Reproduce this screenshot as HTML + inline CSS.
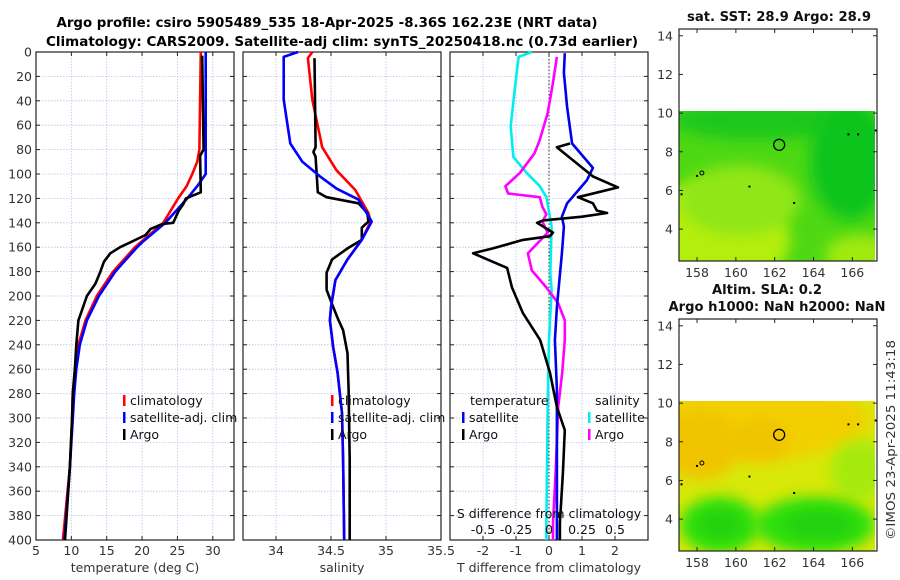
<!DOCTYPE html>
<html><head><meta charset="utf-8">
<style>
html,body{margin:0;padding:0;background:#fff;}
svg{display:block;font-family:"DejaVu Sans","Liberation Sans",sans-serif;}
</style></head>
<body>
<svg id="fig" width="900" height="580" viewBox="0 0 900 580" xmlns="http://www.w3.org/2000/svg">
<defs>
<filter id="blur6" x="-50%" y="-50%" width="200%" height="200%"><feGaussianBlur stdDeviation="7"/></filter>
<clipPath id="clipMap1"><rect x="679" y="111" width="196" height="150"/></clipPath>
<clipPath id="clipMap2"><rect x="679" y="401" width="196" height="150"/></clipPath>
</defs>
<text x="327" y="27" text-anchor="middle" font-size="13" font-weight="bold" textLength="541" lengthAdjust="spacingAndGlyphs">Argo profile: csiro 5905489_535 18-Apr-2025 -8.36S 162.23E (NRT data)</text>
<text x="342" y="46" text-anchor="middle" font-size="13" font-weight="bold" textLength="592" lengthAdjust="spacingAndGlyphs">Climatology: CARS2009. Satellite-adj clim: synTS_20250418.nc (0.73d earlier)</text>

<g id="maps">
  <g clip-path="url(#clipMap1)">
    <rect x="679" y="111" width="196" height="150" fill="#4ed814"/>
    <ellipse cx="700" cy="240" rx="90" ry="55" fill="#b4ee10" filter="url(#blur6)"/>
    <ellipse cx="740" cy="200" rx="60" ry="35" fill="#90e612" filter="url(#blur6)"/>
    <ellipse cx="860" cy="255" rx="35" ry="20" fill="#a0ea10" filter="url(#blur6)"/>
    <ellipse cx="760" cy="120" rx="90" ry="20" fill="#1ec81c" filter="url(#blur6)"/>
    <ellipse cx="850" cy="160" rx="40" ry="60" fill="#10c41e" filter="url(#blur6)"/>
  </g>
  <g clip-path="url(#clipMap2)">
    <rect x="679" y="401" width="196" height="150" fill="#d8e808"/>
    <ellipse cx="760" cy="420" rx="110" ry="40" fill="#f2d000" filter="url(#blur6)"/>
    <ellipse cx="700" cy="445" rx="40" ry="35" fill="#f0c400" filter="url(#blur6)"/>
    <ellipse cx="760" cy="440" rx="30" ry="22" fill="#f0c400" filter="url(#blur6)"/>
    <ellipse cx="860" cy="470" rx="30" ry="30" fill="#a6ea08" filter="url(#blur6)"/>
    <ellipse cx="720" cy="525" rx="40" ry="28" fill="#2ee00a" filter="url(#blur6)"/>
    <ellipse cx="815" cy="525" rx="60" ry="28" fill="#2ee00a" filter="url(#blur6)"/>
    <ellipse cx="720" cy="525" rx="20" ry="14" fill="#20d010" filter="url(#blur6)"/>
    <ellipse cx="820" cy="525" rx="35" ry="14" fill="#20d010" filter="url(#blur6)"/>
  </g>
</g>
<g id="plots"></g>
</svg>
<script>
// ---------- data ----------
const depthTicks = [0,20,40,60,80,100,120,140,160,180,200,220,240,260,280,300,320,340,360,380,400];
const tempTicks = [5,10,15,20,25,30];
const salTicks = [34,34.5,35,35.5];
const tdiffTicks = [-2,-1,0,1,2];
const sdiffTicks = [-0.5,-0.25,0,0.25,0.5];
const sdiffTickLabels = ["-0.5","-0.25","0","0.25","0.5"];

const climTempDepth = [0,80,90,100,110,120,140,160,180,200,220,240,260,280,300,340,400];
const climTemp      = [28.3,28.1,27.8,27.1,26.3,25.1,23.0,19.0,15.9,13.6,12.0,11.0,10.5,10.2,10.1,9.8,8.8];
const satTempDepth  = [0,100,110,120,140,155,160,180,200,220,240,260,280,300,340,400];
const satTemp       = [29.0,29.0,27.8,26.4,23.3,20.2,19.3,16.2,13.9,12.2,11.2,10.7,10.4,10.2,9.8,9.0];
const argoTempDepth = [3,80,85,115,120,125,130,140,141,145,150,160,165,172,180,190,200,220,240,260,280,300,340,400];
const argoTemp      = [28.5,28.7,28.2,28.3,26.2,25.8,25.2,24.4,22.9,21.2,20.5,16.9,15.5,14.6,14.1,13.4,12.2,11.0,10.7,10.5,10.2,10.1,9.8,9.1];

const climSalDepth = [0,5,39,78,97,113,132,139,154,170,187,209,220,242,263,296,334,400];
const climSal      = [34.33,34.29,34.33,34.42,34.55,34.72,34.84,34.86,34.78,34.65,34.54,34.5,34.49,34.52,34.56,34.6,34.61,34.62];
const satSalDepth  = [0,4,39,75,90,102,112,121,139,154,170,187,209,220,242,263,296,334,400];
const satSal       = [34.2,34.07,34.07,34.13,34.24,34.4,34.55,34.75,34.87,34.78,34.65,34.54,34.5,34.49,34.52,34.56,34.6,34.61,34.62];
const argoSalDepth = [5,78,82,86,115,119,124,132,139,144,154,161,170,181,195,209,218,228,247,277,334,400];
const argoSal      = [34.35,34.36,34.34,34.36,34.38,34.46,34.75,34.83,34.84,34.78,34.78,34.65,34.51,34.46,34.46,34.52,34.56,34.61,34.65,34.66,34.67,34.67];

const satTdiffDepth  = [1,17,45,75,95,105,124,135,143,165,209,236,277,386,400];
const satTdiff       = [0.48,0.45,0.55,0.7,1.33,1.15,0.55,0.39,0.45,0.39,0.24,0.18,0.24,0.24,0.24];
const argoTdiffDepth = [75,78,102,111,119,124,130,132,135,138,140,148,151,154,161,165,177,193,214,236,263,291,310,345,386,400];
const argoTdiff      = [0.64,0.24,1.33,2.09,0.88,1.33,1.45,1.76,1.0,-0.18,-0.36,0.12,0.03,-0.79,-1.7,-2.3,-1.27,-1.12,-0.79,-0.27,0.03,0.24,0.48,0.42,0.33,0.33];
const satSdiffDepth  = [0,4,31,61,86,99,110,119,143,181,195,236,291,386,400];
const satSdiff       = [-0.13,-0.23,-0.26,-0.29,-0.27,-0.17,-0.07,-0.02,0.02,0.01,0.02,0,-0.01,-0.02,-0.02];
const argoSdiffDepth = [4,25,50,72,83,99,110,116,119,127,133,139,148,165,179,193,206,220,236,263,291,345,386,400];
const argoSdiff      = [0.06,0.03,-0.01,-0.07,-0.11,-0.22,-0.33,-0.31,-0.07,-0.05,-0.02,-0.05,-0.01,-0.16,-0.13,-0.02,0.07,0.12,0.12,0.1,0.07,0.05,0.03,0.03];

const latTicks = [4,6,8,10,12,14];
const lonTicks = [158,160,162,164,166];
const floatLon = [162.23];
const floatLat = [8.36];

// ---------- helpers ----------
const NS = "http://www.w3.org/2000/svg";
const root = document.getElementById('plots');
function mk(tag, attrs, parent){
  const e = document.createElementNS(NS, tag);
  for (const k in attrs) e.setAttribute(k, attrs[k]);
  (parent||root).appendChild(e);
  return e;
}
const Y0 = 52, Y1 = 540;
const yDepth = d => Y0 + (d/400)*(Y1-Y0);
function linX(d0,d1,p0,p1){ return v => p0 + (v-d0)/(d1-d0)*(p1-p0); }
const FS = 12.5;

const panels = [
  {name:'temperature-panel', x0:36, x1:234, sx:linX(5,33,36,234), ticks:tempTicks, labels:tempTicks.map(String), xlabel:'temperature (deg C)'},
  {name:'salinity-panel', x0:243, x1:441, sx:linX(33.7,35.5,243,441), ticks:salTicks, labels:salTicks.map(String), xlabel:'salinity'},
  {name:'difference-panel', x0:450, x1:648, sx:linX(-3,3,450,648), ticks:tdiffTicks, labels:tdiffTicks.map(String), xlabel:'T difference from climatology'}
];
const sxS = linX(-0.75,0.75,450,648);

panels.forEach((p,pi)=>{
  const g = mk('g',{});
  
  
  depthTicks.forEach(d=>{
    const l = mk('line',{x1:p.x0,x2:p.x1,y1:yDepth(d),y2:yDepth(d),stroke:'#b8c4e8','stroke-width':0.8,'stroke-dasharray':'1.5,1.5'},g);
    
    
  });
  p.ticks.forEach(t=>{
    const x = p.sx(t);
    if (x<=p.x0+0.5 || x>=p.x1-0.5) return;
    const l = mk('line',{x1:x,x2:x,y1:Y0,y2:Y1,stroke:'#b8c4e8','stroke-width':0.8,'stroke-dasharray':'1.5,1.5'},g);
    
    
  });
  const fr = mk('rect',{x:p.x0,y:Y0,width:p.x1-p.x0,height:Y1-Y0,fill:'none',stroke:'#222','stroke-width':1.2},g);
  
  
  depthTicks.forEach(d=>{
    mk('line',{x1:p.x0,x2:p.x0+4,y1:yDepth(d),y2:yDepth(d),stroke:'#222'},g);
    mk('line',{x1:p.x1-4,x2:p.x1,y1:yDepth(d),y2:yDepth(d),stroke:'#222'},g);
    if (pi===0){
      const t = mk('text',{x:p.x0-4,y:yDepth(d)+4.5,'text-anchor':'end','font-size':FS,fill:'#333'},g);
      t.textContent = d;
      
      
    }
  });
  p.ticks.forEach((tv,i)=>{
    const x = p.sx(tv);
    mk('line',{x1:x,x2:x,y1:Y1,y2:Y1-4,stroke:'#222'},g);
    mk('line',{x1:x,x2:x,y1:Y0,y2:Y0+4,stroke:'#222'},g);
    const t = mk('text',{x:x,y:555,'text-anchor':'middle','font-size':FS,fill:'#333'},g);
    t.textContent = p.labels[i];
    
    
  });
  const xl = mk('text',{x:(p.x0+p.x1)/2,y:572,'text-anchor':'middle','font-size':FS,fill:'#333'},g);
  xl.textContent = p.xlabel;
  
  
});

function series(depths, vals, sx, color, name, w){
  const pts = depths.map((d,i)=> sx(vals[i]).toFixed(1)+','+yDepth(d).toFixed(1)).join(' ');
  const pl = mk('polyline',{points:pts,fill:'none',stroke:color,'stroke-width':w||2.6,'stroke-linejoin':'round'});
  
  
}
{
  const z = mk('line',{x1:panels[2].sx(0),x2:panels[2].sx(0),y1:Y0,y2:Y1,stroke:'#333','stroke-width':1,'stroke-dasharray':'1.5,2'});
  
  
}
series(climTempDepth, climTemp, panels[0].sx, '#ff0000', 'climatology-temp-line');
series(satTempDepth, satTemp, panels[0].sx, '#0000ff', 'satellite-temp-line');
series(argoTempDepth, argoTemp, panels[0].sx, '#000000', 'argo-temp-line');
series(climSalDepth, climSal, panels[1].sx, '#ff0000', 'climatology-salinity-line');
series(argoSalDepth, argoSal, panels[1].sx, '#000000', 'argo-salinity-line');
series(satSalDepth, satSal, panels[1].sx, '#0000ff', 'satellite-salinity-line');
series(satSdiffDepth, satSdiff, sxS, '#00eeee', 'satellite-sdiff-line');
series(argoSdiffDepth, argoSdiff, sxS, '#ff00ff', 'argo-sdiff-line');
series(satTdiffDepth, satTdiff, panels[2].sx, '#0000ee', 'satellite-tdiff-line');
series(argoTdiffDepth, argoTdiff, panels[2].sx, '#000000', 'argo-tdiff-line');

{
  const t = mk('text',{x:549,y:518,'text-anchor':'middle','font-size':FS,fill:'#111'});
  t.textContent = 'S difference from climatology';
  
  
  sdiffTicks.forEach((v,i)=>{
    const l = mk('text',{x:sxS(v),y:534,'text-anchor':'middle','font-size':FS,fill:'#111'});
    l.textContent = sdiffTickLabels[i];
    
    
  });
}

function legendEntry(x,y,color,label){
  const g = mk('g',{});
  
  
  mk('rect',{x:x,y:y-10,width:2.5,height:11,fill:color},g);
  const t = mk('text',{x:x+7,y:y,'font-size':FS,fill:'#111'},g);
  t.textContent = label;
}
[123,331].forEach(lx=>{
  legendEntry(lx,405,'#ff0000','climatology');
  legendEntry(lx,422,'#0000ff','satellite-adj. clim');
  legendEntry(lx,439,'#000000','Argo');
});
{
  const t1 = mk('text',{x:470,y:405,'font-size':FS,fill:'#111'}); t1.textContent='temperature';
   
  const t2 = mk('text',{x:595,y:405,'font-size':FS,fill:'#111'}); t2.textContent='salinity';
   
  legendEntry(462,422,'#0000ee','satellite');
  legendEntry(462,439,'#000000','Argo');
  legendEntry(588,422,'#00eeee','satellite');
  legendEntry(588,439,'#ff00ff','Argo');
}

const mapX = linX(157.07,167.27,679,877);
function drawMap(top, titles, centers, lengths, name){
  const bottom = top+232;
  const my = linX(2.35,14.35,bottom,top);
  const g = mk('g',{});
  
  
  mk('rect',{x:679,y:top,width:198,height:232,fill:'none',stroke:'#222','stroke-width':1.2},g);
  latTicks.forEach(v=>{
    const y = my(v);
    mk('line',{x1:679,x2:683,y1:y,y2:y,stroke:'#222'},g);
    mk('line',{x1:873,x2:877,y1:y,y2:y,stroke:'#222'},g);
    const t = mk('text',{x:673,y:y+4.5,'text-anchor':'end','font-size':FS,fill:'#333'},g);
    t.textContent = v;
    
    
  });
  lonTicks.forEach(v=>{
    const x = mapX(v);
    mk('line',{x1:x,x2:x,y1:bottom,y2:bottom-4,stroke:'#222'},g);
    mk('line',{x1:x,x2:x,y1:top,y2:top+4,stroke:'#222'},g);
    const t = mk('text',{x:x,y:bottom+16,'text-anchor':'middle','font-size':FS,fill:'#333'},g);
    t.textContent = v;
    
    
  });
  const c = mk('circle',{cx:mapX(floatLon[0]),cy:my(floatLat[0]),r:5.5,fill:'none',stroke:'#000','stroke-width':1.3},g);
  
  
  mk('circle',{cx:mapX(158.25),cy:my(6.9),r:2,fill:'none',stroke:'#000','stroke-width':1},g);
  [[163,5.35],[157.2,5.8],[160.7,6.2],[165.8,8.9],[166.3,8.9],[167.2,9.1],[158,6.75]].forEach(p=>{
    mk('rect',{x:mapX(p[0])-1,y:my(p[1])-1,width:2,height:2,fill:'#000'},g);
  });
  titles.forEach((s,i)=>{
    const t = mk('text',{x:centers[i],y:top-(titles.length-1-i)*17-8,'text-anchor':'middle','font-size':13,'font-weight':'bold',fill:'#111',textLength:lengths[i],lengthAdjust:'spacingAndGlyphs'},g);
    t.textContent = s;
    
    
  });
}
drawMap(29, ['sat. SST: 28.9 Argo: 28.9'], [779], [184], 'sst-map');
drawMap(319, ['Altim. SLA: 0.2','Argo h1000: NaN h2000: NaN'], [767,777], [110,217], 'sla-map');

{
  const t = mk('text',{x:0,y:0,'text-anchor':'middle','font-size':FS,fill:'#333',transform:'translate(895,440) rotate(-90)',textLength:200,lengthAdjust:'spacingAndGlyphs'});
  t.textContent = '©IMOS 23-Apr-2025 11:43:18';
  
  
}
</script>
</body></html>
